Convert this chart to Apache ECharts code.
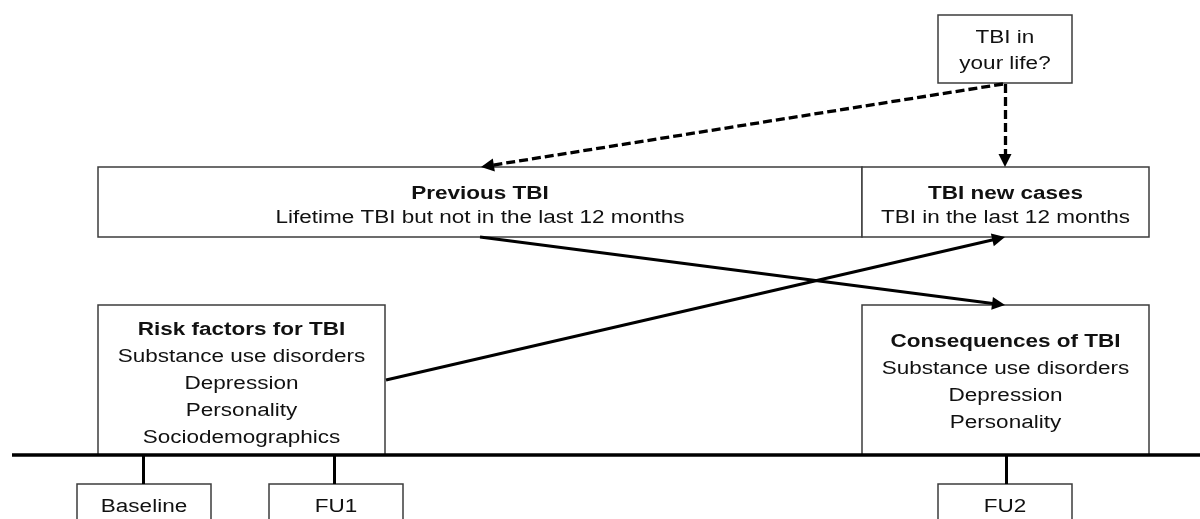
<!DOCTYPE html>
<html><head><meta charset="utf-8">
<script src="https://cdn.jsdelivr.net/npm/echarts@6/dist/echarts.min.js"></script>
<style>html,body{margin:0;padding:0;background:#fff}#c{width:1200px;height:519px}</style>
</head><body><div id="c"></div>
<script>
// ---- content ----
const nodeTitles = ['', 'Previous TBI', 'TBI new cases', 'Risk factors for TBI', 'Consequences of TBI', '', '', ''];
const nodeLines = [
  ['TBI in', 'your life?'],
  ['Lifetime TBI but not in the last 12 months'],
  ['TBI in the last 12 months'],
  ['Substance use disorders', 'Depression', 'Personality', 'Sociodemographics'],
  ['Substance use disorders', 'Depression', 'Personality'],
  ['Baseline'],
  ['FU1'],
  ['FU2']
];
// ---- layout (diagram space, 0..1200 x 0..519, y down) ----
const boxRects = [
  [938, 15, 1072, 83],
  [98, 167, 862, 237],
  [862, 167, 1149, 237],
  [98, 305, 385, 455],
  [862, 305, 1149, 455],
  [77, 484, 211, 528],
  [269, 484, 403, 528],
  [938, 484, 1072, 528]
];
const boxLineHeights = [26, 24, 24, 27, 27, 26, 26, 26];
const boxTextShift = [2, 4, 4, 4, 3, 1, 1, 1];
const arrowFrom = [[1003, 84], [1005, 84], [386, 380], [480, 237]];
const arrowTo = [[481, 167], [1005, 167], [1005, 237], [1005, 305]];
const arrowDashed = [true, true, false, false];
const ruleFrom = [[12, 455], [143, 455], [334, 455], [1006, 455]];
const ruleTo = [[1200, 455], [143, 484], [334, 484], [1006, 484]];
const ruleWidth = [3.5, 3, 3, 3];

const FONT = 'Liberation Sans, Arial, sans-serif';
const SX = 1.25;
const ARROW_LEN = 13;

function shorten(a, b, d) {
  const dx = b[0] - a[0], dy = b[1] - a[1];
  const L = Math.sqrt(dx * dx + dy * dy);
  return [b[0] - dx / L * d, b[1] - dy / L * d];
}

const boxData = boxRects.map((r, i) => [r[0], r[1], r[2], r[3], i]);

const arrowData = arrowFrom.map((f, i) => ({
  coords: [f, shorten(f, arrowTo[i], ARROW_LEN / 2)],
  lineStyle: arrowDashed[i] ? { type: [9, 4], width: 3.3 } : { type: 'solid', width: 3 }
}));
const ruleData = ruleFrom.map((f, i) => ({
  coords: [f, ruleTo[i]],
  lineStyle: { width: ruleWidth[i] }
}));

const chart = echarts.init(document.getElementById('c'));
chart.setOption({
  animation: false,
  backgroundColor: '#fff',
  grid: { left: 0, right: 0, top: 0, bottom: 0 },
  xAxis: { type: 'value', min: 0, max: 1200, show: false },
  yAxis: { type: 'value', min: 0, max: 519, inverse: true, show: false },
  series: [
    {
      type: 'custom',
      coordinateSystem: 'cartesian2d',
      clip: false,
      data: boxData,
      encode: { x: [0, 2], y: [1, 3] },
      renderItem: function (params, api) {
        const p1 = api.coord([api.value(0), api.value(1)]);
        const p2 = api.coord([api.value(2), api.value(3)]);
        const idx = api.value(4);
        const title = nodeTitles[idx];
        const lines = nodeLines[idx];
        const lh = boxLineHeights[idx];
        let text = lines.join('\n');
        if (title) text = '{t|' + title + '}\n' + text;
        const cx = (p1[0] + p2[0]) / 2, cy = (p1[1] + p2[1]) / 2 + boxTextShift[idx];
        return {
          type: 'group',
          children: [
            {
              type: 'rect',
              shape: { x: p1[0], y: p1[1], width: p2[0] - p1[0], height: p2[1] - p1[1] },
              style: { fill: '#fff', stroke: '#3c3c3c', lineWidth: 1.5 }
            },
            {
              type: 'text',
              x: cx, y: cy, scaleX: SX,
              style: {
                text: text,
                x: 0, y: 0,
                align: 'center', verticalAlign: 'middle',
                fontFamily: FONT, fontSize: 18, lineHeight: lh, fill: '#111',
                rich: { t: { fontFamily: FONT, fontSize: 18, fontWeight: 'bold', lineHeight: lh, fill: '#111' } }
              }
            }
          ]
        };
      },
      z: 1
    },
    {
      type: 'lines',
      coordinateSystem: 'cartesian2d',
      data: ruleData,
      symbol: ['none', 'none'],
      lineStyle: { color: '#000', width: 3, opacity: 1 },
      z: 3
    },
    {
      type: 'lines',
      coordinateSystem: 'cartesian2d',
      data: arrowData,
      symbol: ['none', 'triangle'],
      symbolSize: [10, ARROW_LEN],
      lineStyle: { color: '#000', width: 3, opacity: 1 },
      itemStyle: { color: '#000' },
      z: 4
    }
  ]
});
</script></body></html>
